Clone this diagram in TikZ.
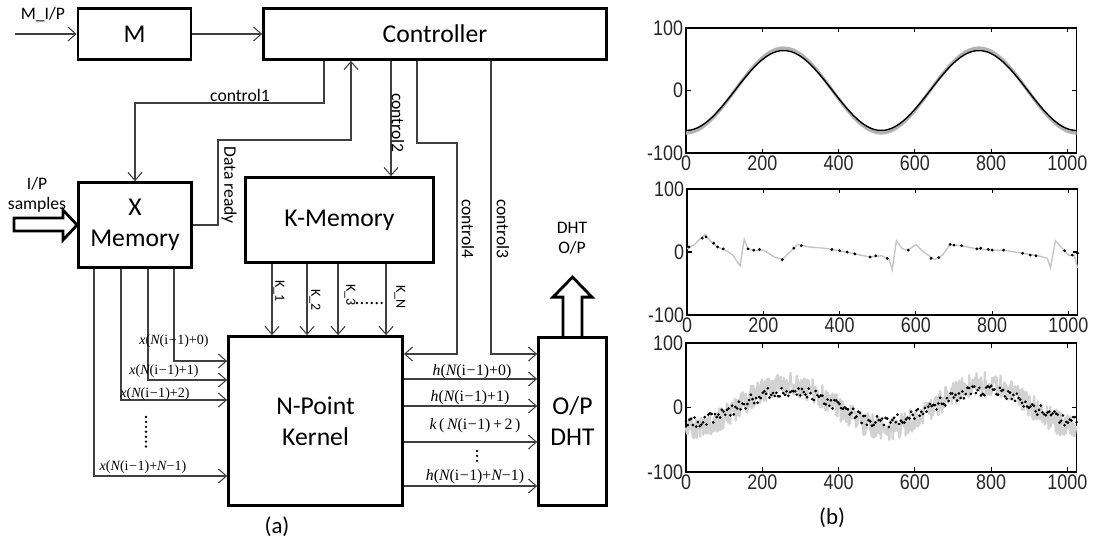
\documentclass[tikz,border=0pt]{standalone}
\usepackage{fontspec}
\setmainfont{Carlito}
\newfontfamily\sigfont{Liberation Serif}
\newfontfamily\axfont{Liberation Sans}
\usetikzlibrary{arrows.meta, positioning}

\newcommand{\tk}[1]{\scalebox{0.85}[1]{#1}}
\newcommand{\sx}[2]{{\itshape #1}({\itshape N}(i\kern0.3pt−\kern0.3pt1)+#2)}

% axes of one panel of (b), drawn in data units
\newcommand{\plotframe}{%
  \draw[line width=0.9pt] (0,-100) rectangle (1024,100);
  \foreach \tx in {0,200,...,1000} {
    \draw[line width=0.7pt] (\tx,-100) -- ++(0,7);
    \draw[line width=0.7pt] (\tx,100) -- ++(0,-7);
    \node[axlabel, below] at (\tx,-100) {\tk{\tx}};
  }
  \draw[line width=0.7pt] (0,0) -- ++(12,0);
  \draw[line width=0.7pt] (1024,0) -- ++(-12,0);
  \node[axlabel, left] at (0,100) {\tk{100}};
  \node[axlabel, left] at (0,0) {\tk{0}};
  \node[axlabel, left] at (0,-100) {\tk{-100}};
}

\begin{document}
\begin{tikzpicture}[
    x=0.02cm, y=-0.02cm,
    box/.style={draw, line width=1.6pt, inner sep=0pt, align=center,
      font=\fontsize{14.6}{17.6}\selectfont},
    lbl/.style={font=\fontsize{10}{11.5}\selectfont, inner sep=0pt, align=center},
    klbl/.style={font=\fontsize{8}{9}\selectfont, inner sep=0pt},
    sig/.style={font=\sigfont\fontsize{8}{9}\selectfont, inner sep=0pt},
    hsig/.style={font=\sigfont\fontsize{9}{10}\selectfont, inner sep=0pt},
    arr/.style={-{Straight Barb[length=4.5pt, width=8pt]}, line width=0.6pt, draw=black!75},
    fat/.style={line width=1.6pt, line join=miter},
    dots/.style={line width=1.5pt, line cap=round, dash pattern=on 0pt off 2.8pt},
    axlabel/.style={font=\axfont\fontsize{12}{13}\selectfont, inner sep=1.5pt, text=black!85}
  ]
  \useasboundingbox (0,0) rectangle (1094,545);

  % (a) block diagram
  \node[box, minimum width=2.26cm, minimum height=1.02cm] (m) at (134.5,34) {M};
  \node[box, minimum width=6.86cm, minimum height=1.02cm] (ctrl) at (435,34) {Controller};
  \node[box, minimum width=2.26cm, minimum height=1.70cm] (xmem) at (135,225) {X\\Memory};
  \node[box, minimum width=3.76cm, minimum height=1.70cm] (kmem) at (339.5,220) {K-Memory};
  \node[box, minimum width=3.48cm, minimum height=3.38cm] (kern) at (315.5,421) {N-Point\\Kernel};
  \node[box, minimum width=1.36cm, minimum height=3.36cm] (dht) at (572.5,421.5) {O/P\\DHT};

  \coordinate (min) at (15,34);
  \draw[arr] (min) -- (m.west);
  \node[lbl] at (43,15) {M\_I/P};
  \draw[arr] (m) -- (ctrl);

  % control lines
  \coordinate (c1) at (324,103);
  \draw[arr] (ctrl.south -| c1) -- (c1) -| (xmem.north);
  \node[lbl] at (240,95) {control1};

  \coordinate (dr1) at (218,140);
  \coordinate (dr2) at (351,140);
  \draw[arr] (xmem.east) -| (dr1) -- (dr2) -- (ctrl.south -| dr2);
  \node[lbl, rotate=-90] at (229,185) {Data ready};

  \coordinate (c2) at (391,0);
  \draw[arr] (ctrl.south -| c2) -- (kmem.north -| c2);
  \node[lbl, rotate=-90] at (398,123) {control2};

  \coordinate (c4a) at (417,143);
  \coordinate (c4b) at (457,354);
  \draw[arr] (ctrl.south -| c4a) -- (c4a) -| (c4b) -- (kern.east |- c4b);
  \node[lbl, rotate=-90] at (468,229) {control4};

  \coordinate (c3) at (491,354);
  \draw[arr] (ctrl.south -| c3) |- (dht.west |- c3);
  \node[lbl, rotate=-90] at (503,229) {control3};

  % input samples
  \draw[fat] (14,218) -- (63,218) -- (63,210) -- (xmem.west) -- (63,240) -- (63,231) -- (14,231) -- cycle;
  \node[lbl] at (37,195) {I/P\\samples};

  % output
  \draw[fat] (dht.north) ++(-9.5,0) -- ++(0,-39) -- ++(-10,0) -- ++(19.5,-20)
    -- ++(19.5,20) -- ++(-10,0) -- ++(0,39);
  \node[lbl] at (572,238) {DHT\\O/P};

  % coefficients
  \foreach \kx/\kn/\lx/\ly in {272/1/279/291, 307/2/315/300, 338/3/350/295, 386/N/400/297} {
    \coordinate (k) at (\kx,0);
    \draw[arr] (kmem.south -| k) -- (kern.north -| k);
    \node[klbl, rotate=-90] at (\lx,\ly) {K\_\kn};
  }
  \draw[dots] (357,303) -- (386,303);

  % samples into the kernel
  \foreach \vx/\hy in {174/361, 148/380, 121/400, 94/476} {
    \coordinate (xv) at (\vx,\hy);
    \draw[arr] (xmem.south -| xv) |- (kern.west |- xv);
  }
  \node[sig] at (174,341) {\sx{x}{0}};
  \node[sig] at (164,371) {\sx{x}{1}};
  \node[sig] at (155,394) {\sx{x}{2}};
  \node[sig] at (143,467) {\sx{x}{{\itshape N}−1}};
  \draw[dots] (146,417) -- (146,448);

  % kernel outputs
  \foreach \hy in {379, 406, 442, 486} {
    \coordinate (hv) at (0,\hy);
    \draw[arr] (kern.east |- hv) -- (dht.west |- hv);
  }
  \node[hsig] at (472,372) {\sx{h}{0}};
  \node[hsig] at (470,398) {\sx{h}{1}};
  \node[hsig] at (475,426) {{\itshape k}\,(\,{\itshape N}(i\kern0.3pt−\kern0.3pt1)\,+\,2\,)};
  \node[hsig] at (475,477) {\sx{h}{{\itshape N}−1}};
  \draw[dots] (477,451) -- (477,462);

  \node[font=\fontsize{13}{15}\selectfont] at (277,527) {(a)};

  % (b) plots
  \begin{scope}[shift={(686,90.5)}, x=0.007637cm, y=0.0125cm]
    \plotframe
    \draw[gray!60, line width=1.8pt] plot[domain=0:1024, samples=150, smooth] (\x, {-68*cos(0.703125*\x)});
    \draw[black, line width=0.8pt] plot[domain=0:1024, samples=150, smooth] (\x, {-64*cos(0.703125*\x)});
  \end{scope}

  \begin{scope}[shift={(687,252)}, x=0.007637cm, y=0.0126cm]
    \plotframe
    \draw[gray!45, line width=0.8pt] plot coordinates {(0,5) (20,12) (47,28) (60,18) (80,8) (100,3)
      (120,-5) (139,-22) (150,20) (160,5) (180,2) (200,3) (230,-8) (250,-12) (270,0) (290,12)
      (320,8) (360,6) (400,2) (440,-3) (480,-8) (510,-6) (530,-12) (538,-28) (549,18) (565,5)
      (580,3) (600,12) (620,0) (650,-12) (670,-5) (690,12) (720,10) (760,5) (800,3) (840,2)
      (880,-2) (920,-6) (945,-10) (953,-25) (966,18) (985,5) (1000,-5) (1015,-5) (1024,-25)};
    \draw[black, fill=black] plot[only marks, mark=*, mark size=0.6pt] coordinates {(5,8) (40,22)
      (50,24) (70,14) (80,8) (95,5) (160,5) (175,3) (190,4) (250,-12) (280,6) (300,10) (380,4)
      (400,2) (420,0) (440,-3) (480,-8) (495,-6) (525,-10) (580,3) (640,-10) (660,-9) (690,12)
      (700,11) (720,10) (760,5) (770,6) (790,4) (800,3) (830,3) (880,-2) (900,-5) (915,-6)
      (990,2) (1010,-5) (1024,-2)};
  \end{scope}

  \begin{scope}[shift={(686,407.5)}, x=0.007637cm, y=0.0129cm]
    \plotframe
    \pgfmathsetseed{11}
    \draw[gray!35, line width=1.3pt, line join=round] plot[domain=0:1024, samples=700] (\x, {-34*cos(0.703125*(\x-10))+2+19*rand});
    \draw[black, fill=black] plot[only marks, mark=*, mark size=0.55pt, domain=0:1024, samples=230]
      (\x, {-24*cos(0.703125*(\x-10))+2+9*rand});
  \end{scope}

  \node[font=\fontsize{13}{15}\selectfont] at (832,518) {(b)};
\end{tikzpicture}
\end{document}
